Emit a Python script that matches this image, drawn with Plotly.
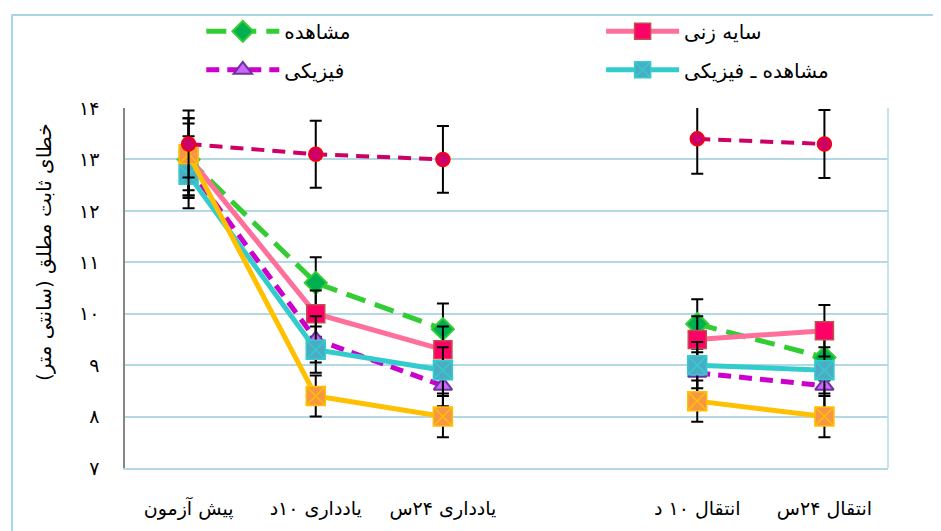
import plotly.graph_objects as go

categories = ["پیش آزمون", "یادداری ۱۰د", "یادداری ۲۴س", " ", "انتقال ۱۰ د", "انتقال ۲۴س"]
y_tick_vals = [7, 8, 9, 10, 11, 12, 13, 14]
y_tick_text = ["۷", "۸", "۹", "۱۰", "۱۱", "۱۲", "۱۳", "۱۴"]
y_title = "خطای ثابت مطلق (سانتی متر)"

observe = [13.0, 10.6, 9.7, None, 9.8, 9.15]
observe_err = [0.7, 0.5, 0.5, None, 0.48, 0.45]
shadow = [13.05, 10.0, 9.3, None, 9.5, 9.67]
shadow_err = [0.75, 0.45, 0.45, None, 0.45, 0.5]
physical = [12.85, 9.5, 8.6, None, 8.85, 8.6]
physical_err = [0.6, 0.45, 0.4, None, 0.4, 0.45]
obs_phys = [12.7, 9.3, 8.9, None, 9.0, 8.9]
obs_phys_err = [0.65, 0.45, 0.45, None, 0.45, 0.45]
orange_s = [13.1, 8.4, 8.0, None, 8.3, 8.0]
orange_err = [0.7, 0.4, 0.4, None, 0.4, 0.4]
control = [13.3, 13.1, 13.0, None, 13.4, 13.3]
control_err = [0.65, 0.65, 0.65, None, 0.68, 0.66]

FONT = "DejaVu Sans"
fig = go.Figure()

def add(name, y, err, lcolor, dash, lw, symbol, mfill, mline, msize, mlw, legend, show=True):
    fig.add_trace(go.Scatter(
        x=categories, y=y, name=name, mode="lines+markers",
        line=dict(color=lcolor, width=lw, dash=dash),
        marker=dict(symbol=symbol, color=mfill, size=msize, line=dict(color=mline, width=mlw)),
        error_y=dict(type="data", array=err, visible=True, color="black", thickness=2, width=6),
        showlegend=show, legend=legend, connectgaps=False,
    ))

add("مشاهده", observe, observe_err, "#33CC33", "20px,10px", 5, "diamond", "#00B050", "#33CC33", 17, 2, "legend")
add("سایه زنی", shadow, shadow_err, "#FF6F9C", "solid", 5, "square", "#FF0066", "#C0504D", 18, 1.5, "legend2")
add("فیزیکی", physical, physical_err, "#CC00CC", "13px,8px", 5, "triangle-up", "#CC66FF", "#7030A0", 16, 2, "legend3")
add("مشاهده ـ فیزیکی", obs_phys, obs_phys_err, "#33CCCC", "solid", 5, "square-x", "#4BACC6", "#33CCCC", 19, 1.5, "legend4")
add("orange", orange_s, orange_err, "#FFC000", "solid", 5, "square-x", "#F79646", "#FFC000", 19, 1.5, "legend", show=False)
add("control", control, control_err, "#CC0066", "13px,8px", 4, "circle", "#CC0066", "#FF0000", 14, 1.5, "legend", show=False)

shapes = []
for i in range(1, len(categories)):
    shapes.append(dict(type="line", xref="x", yref="paper", x0=i - 0.5, x1=i - 0.5, y0=0, y1=1,
                       line=dict(color="white", width=2), layer="between"))
shapes.append(dict(type="line", xref="paper", yref="paper", x0=1, x1=1, y0=0, y1=1,
                   line=dict(color="#B4D9E4", width=1.5), layer="below"))
shapes.append(dict(type="rect", xref="paper", yref="paper", x0=-0.148, x1=1.1, y0=-0.3, y1=1.258,
                   line=dict(color="#A9D4E2", width=2), layer="above"))

leg_font = dict(family=FONT, size=20, color="black")
def leg(x, y):
    return dict(x=x, y=y, xanchor="left", yanchor="middle", font=leg_font, bgcolor="rgba(0,0,0,0)",
                itemwidth=73, orientation="h")

fig.update_layout(
    width=933, height=523,
    margin=dict(l=117, r=53, t=100, b=63, autoexpand=False),
    paper_bgcolor="white", plot_bgcolor="white",
    showlegend=True,
    legend=leg(0.100, 1.213),
    legend2=leg(0.624, 1.213),
    legend3=leg(0.100, 1.106),
    legend4=leg(0.624, 1.106),
    shapes=shapes,
    annotations=[dict(text=y_title, xref="paper", yref="paper", x=-0.106, y=0.60,
                      textangle=-90, showarrow=False, xanchor="center", yanchor="middle",
                      font=dict(family=FONT, size=20, color="black"))],
    xaxis=dict(type="category", categoryorder="array", categoryarray=categories,
               range=[-0.5, len(categories) - 0.5], automargin=False,
               showgrid=False, showline=True, linecolor="#B4D9E4", linewidth=1.5,
               ticks="", ticklabelstandoff=22, tickfont=dict(family=FONT, size=19, color="black"),
               zeroline=False),
    yaxis=dict(range=[7, 14], tickvals=y_tick_vals, ticktext=y_tick_text, automargin=False,
               showgrid=True, gridcolor="#B4D9E4", gridwidth=1.5,
               showline=True, linecolor="#868686", linewidth=1.5, ticks="",
               ticklabelstandoff=20, tickfont=dict(family=FONT, size=19, color="black"),
               zeroline=False),
)

fig.write_html("out.html")
